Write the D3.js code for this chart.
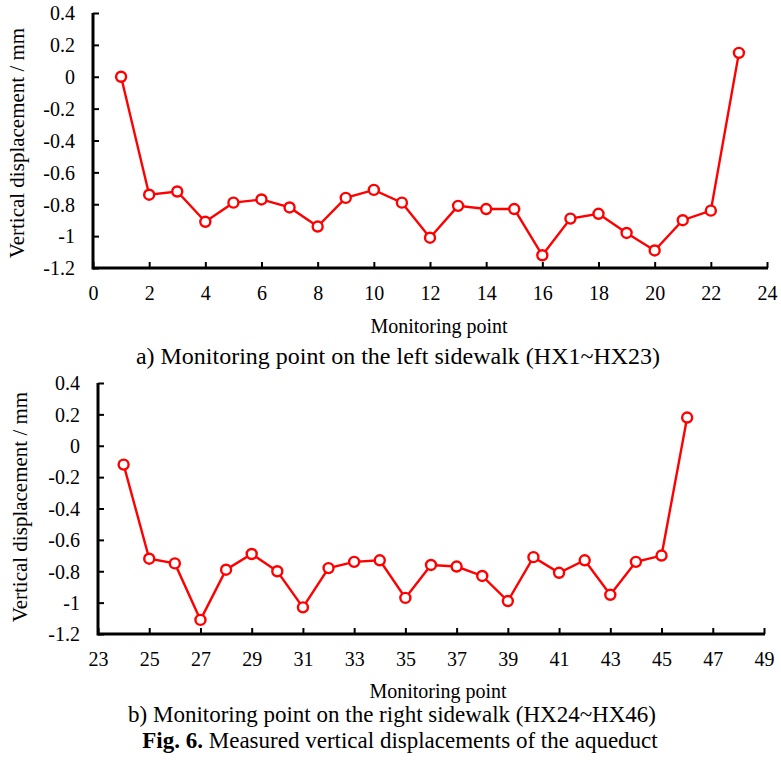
<!DOCTYPE html>
<html><head><meta charset="utf-8">
<script src="https://cdn.jsdelivr.net/npm/d3@7"></script>
<style>body{margin:0;background:#fff}svg{display:block}text{font-family:"Liberation Serif","Times New Roman",serif;fill:#000}</style>
</head><body><svg id="c" width="781" height="766"></svg>
<script>
const pointsA = d3.range(1, 24);
const valuesA = [0, -0.74, -0.72, -0.91, -0.79, -0.77, -0.82, -0.94, -0.76, -0.71, -0.79, -1.01, -0.81, -0.83, -0.83, -1.12, -0.89, -0.86, -0.98, -1.09, -0.90, -0.84, 0.15];
const pointsB = d3.range(24, 47);
const valuesB = [-0.12, -0.72, -0.75, -1.11, -0.79, -0.69, -0.80, -1.03, -0.78, -0.74, -0.73, -0.97, -0.76, -0.77, -0.83, -0.99, -0.71, -0.81, -0.73, -0.95, -0.74, -0.70, 0.18];
const xTicksA = [0,2,4,6,8,10,12,14,16,18,20,22,24];
const xTicksB = [23,25,27,29,31,33,35,37,39,41,43,45,47,49];
const yTicks = [0.4,0.2,0,-0.2,-0.4,-0.6,-0.8,-1,-1.2];
const yLabel = "Vertical displacement / mm";
const xLabel = "Monitoring point";
const captionA = "a) Monitoring point on the left sidewalk (HX1~HX23)";
const captionB = "b) Monitoring point on the right sidewalk (HX24~HX46)";

const svg = d3.select("#c");
const FONT = '"Liberation Serif","Times New Roman",serif';

function panel(cfg){
  const g = svg.append("g");
  const x = d3.scaleLinear().domain(cfg.xDomain).range([cfg.left, cfg.right]);
  const y = d3.scaleLinear().domain([-1.2, 0.4]).range([cfg.bottom, cfg.top]);
  const ya = g.append("g").attr("transform", `translate(${cfg.left},0)`)
    .call(d3.axisLeft(y).tickValues(yTicks).tickSize(-6).tickFormat(d => String(+d.toFixed(1))));
  const xa = g.append("g").attr("transform", `translate(0,${cfg.bottom})`)
    .call(d3.axisBottom(x).tickValues(cfg.xTicks).tickSize(-6).tickFormat(d3.format("d")));
  [ya, xa].forEach(a => {
    a.attr("font-family", FONT).attr("font-size", 20);
    a.select(".domain").attr("stroke", "#000").attr("stroke-width", 3);
    a.selectAll(".tick line").attr("stroke", "#000").attr("stroke-width", 2);
    a.selectAll("text").style("font-size", "20px").style("font-family", FONT).attr("fill", "#000");
  });
  ya.select(".domain").attr("d", `M0,${cfg.bottom + 1.5}V${cfg.top}`);
  xa.select(".domain").attr("d", `M${cfg.left},0H${cfg.right + 1}`);
  ya.selectAll(".tick text").attr("x", -18).attr("dy", "0.34em");
  xa.selectAll(".tick text").attr("y", 32).attr("dy", 0);
  const data = cfg.pts.map((p, i) => [p, cfg.vals[i]]);
  g.append("path").datum(data)
    .attr("fill", "none").attr("stroke", "#ff0000").attr("stroke-width", 2.4)
    .attr("d", d3.line().x(d => x(d[0])).y(d => y(d[1])));
  g.selectAll("circle").data(data).join("circle")
    .attr("cx", d => x(d[0])).attr("cy", d => y(d[1])).attr("r", 5)
    .attr("fill", "#fff").attr("stroke", "#ff0000").attr("stroke-width", 2.4);
  g.append("text").attr("transform", `translate(${cfg.ylx},${cfg.yly}) rotate(-90)`)
    .attr("text-anchor", "middle").style("font-size", "21px").text(yLabel);
  g.append("text").attr("x", cfg.xlx).attr("y", cfg.xly).attr("text-anchor", "middle")
    .style("font-size", "20px").text(xLabel);
  g.append("text").attr("x", cfg.capx).attr("y", cfg.capy).attr("text-anchor", "middle")
    .style("font-size", cfg.capsize + "px").text(cfg.caption);
}

panel({xDomain:[0,24], xTicks:xTicksA, pts:pointsA, vals:valuesA,
  left:93, right:767, top:13, bottom:268, ylx:24, yly:143, xlx:439, xly:333, capx:398, capy:364, capsize:24, caption:captionA});
panel({xDomain:[23,49], xTicks:xTicksB, pts:pointsB, vals:valuesB,
  left:98, right:764, top:383, bottom:634, ylx:27, yly:507, xlx:438, xly:698, capx:392, capy:722, capsize:23, caption:captionB});

const fig = svg.append("text").attr("x", 400).attr("y", 748).attr("text-anchor", "middle").style("font-size", "23px");
fig.append("tspan").attr("font-weight", "bold").text("Fig. 6.");
fig.append("tspan").text(" Measured vertical displacements of the aqueduct");
</script></body></html>
